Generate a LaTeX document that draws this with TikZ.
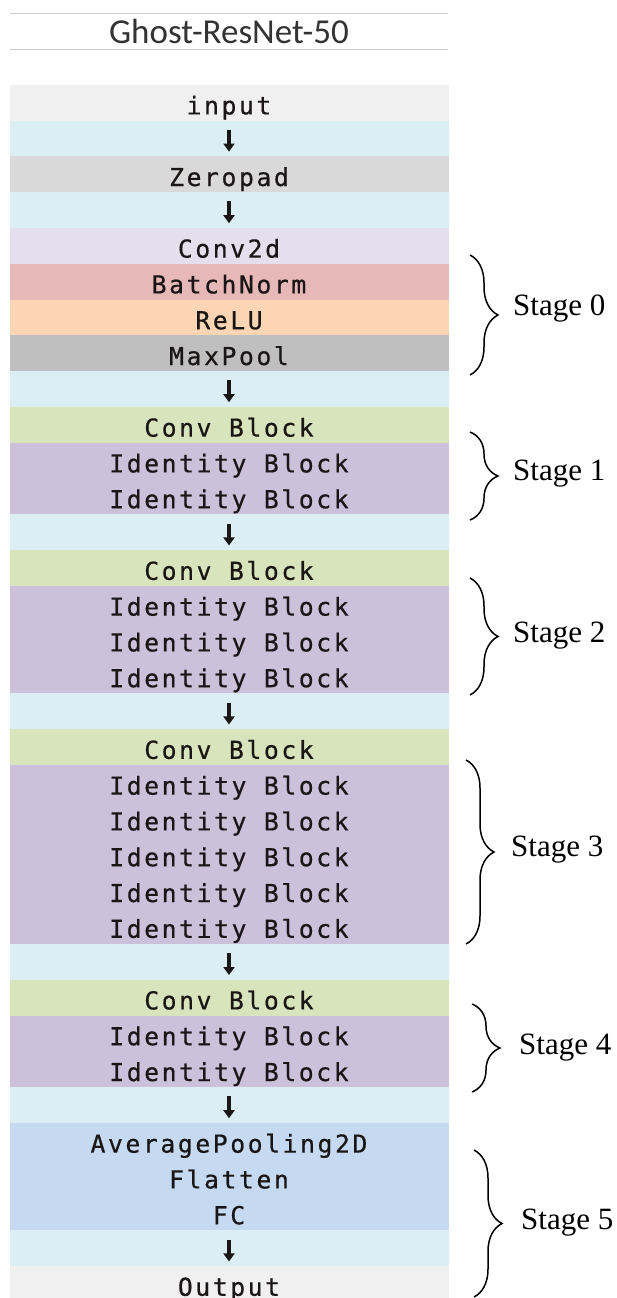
\documentclass[tikz,border=0pt]{standalone}
\usepackage{fontspec}
\setmainfont{Liberation Serif}
\newfontfamily\titlefont{Carlito}
\newfontfamily\rowfont[LetterSpace=10.5, FakeBold=0.6]{DejaVu Sans Mono}
\usetikzlibrary{arrows.meta, positioning, decorations.pathreplacing}
\definecolor{Ink}{HTML}{1A1616}
\definecolor{TitleInk}{HTML}{333333}
\definecolor{Rule}{HTML}{CFCFCF}
\definecolor{InGray}{HTML}{F0F0F0}
\definecolor{Aqua}{HTML}{DAEEF3}
\definecolor{PadGray}{HTML}{D9D9D9}
\definecolor{Lilac}{HTML}{E4DFEC}
\definecolor{Rose}{HTML}{E6B8B7}
\definecolor{Peach}{HTML}{FCD5B4}
\definecolor{PoolGray}{HTML}{BFBFBF}
\definecolor{Olive}{HTML}{D8E4BC}
\definecolor{Violet}{HTML}{CCC0DA}
\definecolor{Sky}{HTML}{C5D9F1}

\begin{document}
\begin{tikzpicture}[
  x=1pt, y=-1pt,
  row/.style={minimum width=438pt, minimum height=35.8pt, inner sep=0pt, outer sep=0pt, line width=0.5pt,
    text height=23pt, text depth=0pt, font=\rowfont\fontsize{24.7}{26}\selectfont, text=Ink},
  gap/.style={row, fill=Aqua, draw=Aqua},
  plain/.style={row, fill=InGray, draw=InGray},
  pad/.style={row, fill=PadGray, draw=PadGray},
  conv/.style={row, fill=Lilac, draw=Lilac},
  norm/.style={row, fill=Rose, draw=Rose},
  act/.style={row, fill=Peach, draw=Peach},
  pool/.style={row, fill=PoolGray, draw=PoolGray},
  convblk/.style={row, fill=Olive, draw=Olive},
  idblk/.style={row, fill=Violet, draw=Violet},
  head/.style={row, fill=Sky, draw=Sky},
  flow/.style={-{Triangle[width=11pt, length=8pt]}, line width=3.2pt, draw=Ink, shorten <=9pt, shorten >=5pt},
  brace/.style={decorate, decoration={brace, amplitude=28pt}, line width=1.5pt, draw=black},
  stage/.style={font=\fontsize{31}{36}\selectfont, anchor=west, inner sep=0pt}
]
\useasboundingbox (0,0) rectangle (616,1298);

% title
\node[minimum width=438pt, minimum height=36pt, inner sep=0pt, text height=24pt, text depth=0pt, text=TitleInk,
  font=\titlefont\fontsize{35}{40}\selectfont] (title) at (229,31.5) {Ghost-ResNet-50};
\draw[Rule, line width=1.5pt] (title.north west) -- (title.north east);
\draw[Rule, line width=1.5pt] (title.south west) -- (title.south east);

% layers
\node[plain, anchor=north west] (in) at (10,85) {input};
\node[gap, below=0pt of in] (a1) {};
\node[pad, below=0pt of a1] (zp) {Zeropad};
\node[gap, below=0pt of zp] (a2) {};
\node[conv, below=0pt of a2] (c2d) {Conv2d};
\node[norm, below=0pt of c2d] (bn) {BatchNorm};
\node[act, below=0pt of bn] (relu) {ReLU};
\node[pool, below=0pt of relu] (mp) {MaxPool};
\node[gap, below=0pt of mp] (a3) {};
\node[convblk, below=0pt of a3] (cb1) {Conv Block};
\node[idblk, below=0pt of cb1] (id11) {Identity Block};
\node[idblk, below=0pt of id11] (id12) {Identity Block};
\node[gap, below=0pt of id12] (a4) {};
\node[convblk, below=0pt of a4] (cb2) {Conv Block};
\node[idblk, below=0pt of cb2] (id21) {Identity Block};
\node[idblk, below=0pt of id21] (id22) {Identity Block};
\node[idblk, below=0pt of id22] (id23) {Identity Block};
\node[gap, below=0pt of id23] (a5) {};
\node[convblk, below=0pt of a5] (cb3) {Conv Block};
\node[idblk, below=0pt of cb3] (id31) {Identity Block};
\node[idblk, below=0pt of id31] (id32) {Identity Block};
\node[idblk, below=0pt of id32] (id33) {Identity Block};
\node[idblk, below=0pt of id33] (id34) {Identity Block};
\node[idblk, below=0pt of id34] (id35) {Identity Block};
\node[gap, below=0pt of id35] (a6) {};
\node[convblk, below=0pt of a6] (cb4) {Conv Block};
\node[idblk, below=0pt of cb4] (id41) {Identity Block};
\node[idblk, below=0pt of id41] (id42) {Identity Block};
\node[gap, below=0pt of id42] (a7) {};
\node[head, below=0pt of a7] (avg) {AveragePooling2D};
\node[head, below=0pt of avg] (flat) {Flatten};
\node[head, below=0pt of flat] (fc) {FC};
\node[gap, below=0pt of fc] (a8) {};
\node[plain, below=0pt of a8] (out) {Output};

\draw[flow] (in) -- (zp);
\draw[flow] (zp) -- (c2d);
\draw[flow] (mp) -- (cb1);
\draw[flow] (id12) -- (cb2);
\draw[flow] (id23) -- (cb3);
\draw[flow] (id35) -- (cb4);
\draw[flow] (id42) -- (avg);
\draw[flow] (fc) -- (out);

% stages
\draw[brace] (470,255) -- (470,375);
\node[stage] (s0) at (513,309) {Stage 0};
\draw[brace] (470,432) -- (470,520);
\node[stage] (s1) at (513,474) {Stage 1};
\draw[brace] (470,578) -- (470,695);
\node[stage] (s2) at (513,636) {Stage 2};
\draw[brace] (466,760) -- (466,944);
\node[stage] (s3) at (511,850) {Stage 3};
\draw[brace] (472,1004) -- (472,1092);
\node[stage] (s4) at (519,1048) {Stage 4};
\draw[brace] (474,1150) -- (474,1297);
\node[stage] (s5) at (521,1223) {Stage 5};
\end{tikzpicture}
\end{document}
